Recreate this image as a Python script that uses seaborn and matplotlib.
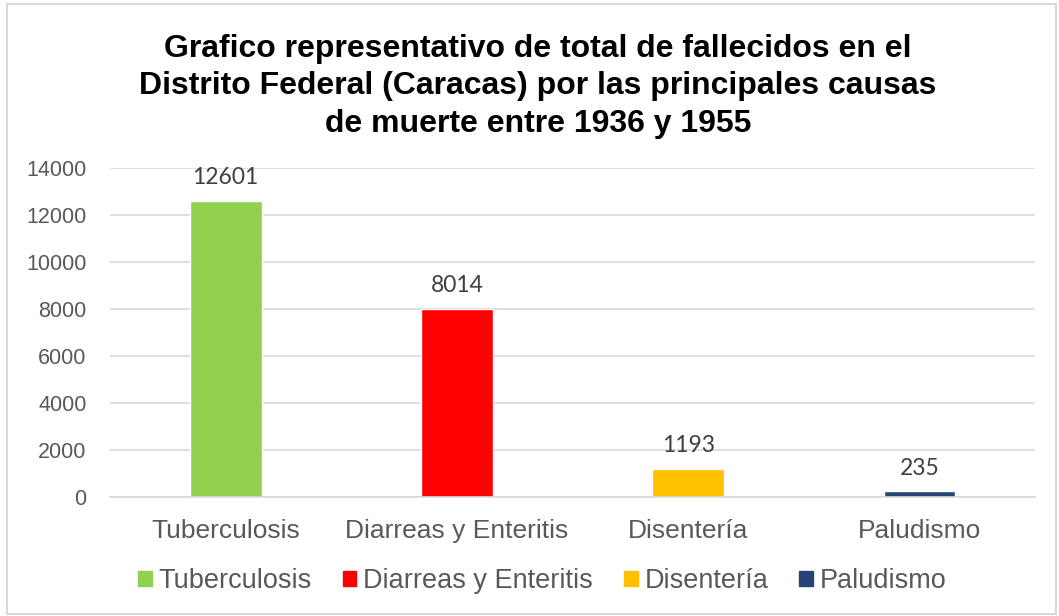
import pandas as pd
import numpy as np
import matplotlib.pyplot as plt
import seaborn as sns
from matplotlib.patches import Rectangle

causas = ['Tuberculosis', 'Diarreas y Enteritis', 'Disentería', 'Paludismo']
fallecidos = [12601, 8014, 1193, 235]
colores = ['#92D050', '#FF0000', '#FFC000', '#264478']
titulo = ('Grafico representativo de total de fallecidos en el\n'
          'Distrito Federal (Caracas) por las principales causas\n'
          'de muerte entre 1936 y 1955')

df = pd.DataFrame({'causa': causas, 'total': fallecidos})

sns.set_style('white')
plt.rcParams['font.family'] = ['Liberation Sans', 'DejaVu Sans']

gris = '#595959'
fig = plt.figure(figsize=(10.59, 6.16), dpi=100)
ax = fig.add_axes([0.1039, 0.1932, 0.8735, 0.534])

sns.barplot(data=df, x='causa', y='total', hue='causa', palette=colores,
            dodge=False, width=0.31, ax=ax, legend=False, saturation=1)

# etiquetas de datos
for cont in ax.containers:
    ax.bar_label(cont, padding=9, fontsize=16.5, color='#404040', family=['Lato', 'DejaVu Sans'])

ax.set_ylim(0, 14000)
ax.set_yticks(range(0, 14001, 2000))
ax.yaxis.grid(True, color='#D9D9D9', linewidth=1.2)
ax.set_axisbelow(True)
for s in ['top', 'right', 'left']:
    ax.spines[s].set_visible(False)
ax.spines['bottom'].set_color('#D9D9D9')
ax.spines['bottom'].set_linewidth(1.2)
ax.tick_params(axis='x', length=0, pad=16, labelsize=19, labelcolor=gris)
ax.tick_params(axis='y', length=0, pad=17, labelsize=15.5, labelcolor=gris)
ax.set_xlabel('')
ax.set_ylabel('')

fig.text(0.508, 0.86, titulo, ha='center', va='center', fontsize=23,
         fontweight='bold', color='black', linespacing=1.32)

handles = [Rectangle((0, 0), 1, 1, color=c) for c in colores]
fig.legend(handles, causas, loc='center', bbox_to_anchor=(0.512, 0.057), ncol=4,
           frameon=False, fontsize=19.5, handlelength=0.5, handleheight=0.5,
           handletextpad=0.25, columnspacing=1.15, labelcolor=gris)

fig.patches.append(Rectangle((0.007, 0.003), 0.99, 0.99, transform=fig.transFigure,
                             fill=False, edgecolor='#D9D9D9', linewidth=1.5))

fig.savefig('out.png', dpi=100)
